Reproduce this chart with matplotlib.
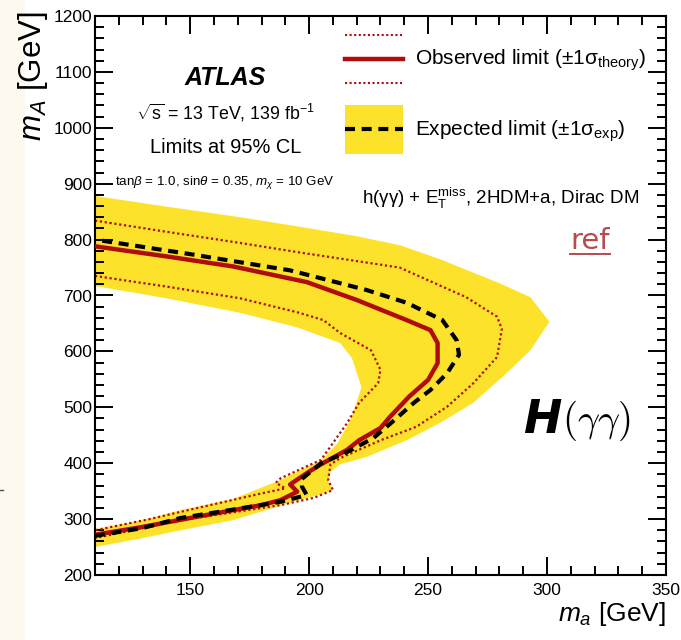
import matplotlib
matplotlib.use("Agg")
import matplotlib.pyplot as plt
from matplotlib.legend_handler import HandlerBase
from matplotlib.lines import Line2D
from matplotlib.patches import Rectangle
from matplotlib.ticker import MultipleLocator

plt.rcParams['font.family'] = ['Liberation Sans', 'DejaVu Sans']
plt.rcParams['mathtext.fontset'] = 'custom'
plt.rcParams['mathtext.rm'] = 'Liberation Sans'
plt.rcParams['mathtext.it'] = 'Liberation Sans:italic'
plt.rcParams['mathtext.bf'] = 'Liberation Sans:bold'

YELLOW = "#fde22c"
RED = "#b00c0c"

# +-1 sigma expected band (closed outline, m_a vs m_A in GeV)
band_x = [110, 140, 171, 196, 220, 238, 255, 266, 280, 293, 301, 293, 283, 269, 255, 241, 224, 213, 209, 208, 210, 207, 188, 168, 146, 130, 110,
          110, 130, 146, 168, 188, 195, 205, 212, 218, 222, 218, 213, 195, 171, 140, 110]
band_y = [878, 859, 840, 823, 806, 790, 765, 746, 722, 697, 653, 602, 561, 508, 472, 441, 411, 398, 385, 367, 352, 347, 324, 298, 280, 266, 250,
          282, 298, 316, 336, 370, 385, 405, 436, 483, 536, 588, 615, 643, 669, 695, 717]

# expected limit
exp_x = [110, 130, 146, 168, 188, 199, 197, 197, 205, 216, 227, 235, 244, 251, 258, 263, 262, 256, 241, 224, 192, 150, 110]
exp_y = [270, 284, 302, 317, 331, 343, 358, 372, 400, 420, 445, 474, 508, 531, 561, 594, 620, 656, 687, 710, 745, 774, 800]

# observed limit
obs_x = [110, 130, 150, 168, 180, 188, 195, 192, 200, 205, 216, 221, 230, 234, 238, 242, 250, 254, 254, 251, 241, 220, 199, 168, 140, 110]
obs_y = [272, 286, 302, 316, 325, 334, 349, 362, 385, 398, 424, 441, 463, 483, 501, 519, 549, 579, 615, 638, 656, 692, 724, 752, 770, 788]

# observed +-1 sigma theory (outer / inner contour)
theo_hi_x = [110, 140, 171, 196, 238, 266, 279, 281, 279, 269, 258, 245, 230, 213, 209, 208, 210, 202, 188, 146, 110]
theo_hi_y = [834, 814, 794, 777, 750, 697, 662, 640, 590, 543, 501, 465, 441, 409, 398, 370, 352, 338, 325, 298, 266]
theo_lo_x = [110, 140, 171, 195, 206, 213, 226, 230, 229, 221, 216, 213, 205, 188, 186, 190, 180, 146, 133, 110]
theo_lo_y = [735, 716, 695, 670, 656, 633, 602, 567, 543, 508, 472, 454, 406, 373, 365, 355, 346, 313, 300, 280]

x_major = [150, 200, 250, 300, 350]
y_major = [200, 300, 400, 500, 600, 700, 800, 900, 1000, 1100, 1200]


class ObsHandler(HandlerBase):
    def create_artists(self, legend, orig_handle, xdescent, ydescent, width, height, fontsize, trans):
        x0, x1 = -xdescent, -xdescent + width
        yc = -ydescent + height / 2
        dy = height * 0.48
        arts = [Line2D([x0, x1], [yc + dy, yc + dy], color=RED, ls=(0, (1, 1.2)), lw=1.5),
                Line2D([x0, x1], [yc, yc], color=RED, lw=3.2),
                Line2D([x0, x1], [yc - dy, yc - dy], color=RED, ls=(0, (1, 1.2)), lw=1.5)]
        for a in arts:
            a.set_transform(trans)
        return arts


class ExpHandler(HandlerBase):
    def create_artists(self, legend, orig_handle, xdescent, ydescent, width, height, fontsize, trans):
        x0 = -xdescent
        yc = -ydescent + height / 2
        box = Rectangle((x0, -ydescent), width, height, facecolor=YELLOW, edgecolor='none', transform=trans)
        ln = Line2D([x0, x0 + width], [yc, yc], color='black', lw=3, ls=(0, (2.4, 1.6)), transform=trans)
        return [box, ln]


class ObsEntry:
    pass


class ExpEntry:
    pass


fig = plt.figure(figsize=(6.81, 6.40), dpi=100)
fig.patches.append(Rectangle((0, 0), 25 / 681, 1, transform=fig.transFigure, facecolor='#fdf9ee',
                             edgecolor='none', zorder=-1))
fig.lines.append(Line2D([0, 3 / 681], [1 - 490 / 640, 1 - 490 / 640], transform=fig.transFigure,
                        color='#555555', lw=1))

ax = fig.add_axes([95 / 681, 65 / 640, 571 / 681, 559 / 640])

ax.fill(band_x, band_y, color=YELLOW, lw=0, zorder=1)
ax.plot(theo_hi_x, theo_hi_y, color=RED, lw=1.6, ls=(0, (1, 1.2)), zorder=2)
ax.plot(theo_lo_x, theo_lo_y, color=RED, lw=1.6, ls=(0, (1, 1.2)), zorder=2)
ax.plot(obs_x, obs_y, color=RED, lw=3.2, zorder=3, solid_joinstyle='round')
ax.plot(exp_x, exp_y, color='black', lw=3, ls=(0, (2.4, 1.6)), zorder=4)

ax.set_xlim(110, 350)
ax.set_ylim(200, 1200)
ax.set_xticks(x_major)
ax.set_yticks(y_major)
ax.xaxis.set_minor_locator(MultipleLocator(10))
ax.yaxis.set_minor_locator(MultipleLocator(20))
ax.tick_params(which='both', direction='in', top=True, right=True, width=1.4, labelsize=12.5)
ax.tick_params(which='major', length=13)
ax.tick_params(which='minor', length=6.5)
ax.tick_params(axis='x', pad=6)
ax.tick_params(axis='y', pad=2)
for sp in ax.spines.values():
    sp.set_linewidth(1.5)

ax.set_xlabel('$m_{a}$ [GeV]', fontsize=19, loc='right')
ax.xaxis.set_label_coords(1.0, -0.045)
ax.set_ylabel('$m_{A}$ [GeV]', fontsize=22.5, loc='top')
ax.yaxis.set_label_coords(-0.079, 1.008)

tx = 0.228
ta = ax.transAxes
ax.text(tx, 0.889, 'ATLAS', fontsize=18, fontweight='bold', fontstyle='italic', ha='center', va='center',
        transform=ta)
ax.text(tx, 0.827, r'$\sqrt{\mathrm{s}}$ = 13 TeV, 139 fb$^{\mathrm{-1}}$', fontsize=12.8, ha='center',
        va='center', transform=ta)
ax.text(tx, 0.764, 'Limits at 95% CL', fontsize=14.4, ha='center', va='center', transform=ta)
ax.text(tx, 0.702, r'tan$\beta$ = 1.0, sin$\theta$ = 0.35, $m_{\chi}$ = 10 GeV', fontsize=9.6,
        ha='center', va='center', transform=ta)
ax.text(0.711, 0.673, r'h($\mathrm{\gamma\gamma}$) + $\mathrm{E}_{\mathrm{T}}^{\mathrm{miss}}$, 2HDM+a, Dirac DM',
        fontsize=13.5, ha='center', va='center', transform=ta)

ref = ax.text(0.867, 0.598, 'ref', fontsize=21, color='#b84a4e', family='DejaVu Sans', ha='center',
              va='center', transform=ta)

h = ax.text(0.75, 0.254, 'H', fontsize=33, fontweight='bold', fontstyle='italic', family='DejaVu Sans',
            ha='left', va='baseline', transform=ta)
ax.annotate(r'$\mathbf{(}\gamma\gamma\mathbf{)}$', xy=(1, 0), xycoords=h, va='bottom', ha='left', fontsize=28,
            math_fontfamily='cm')

ax.legend([ObsEntry(), ExpEntry()],
          [r'Observed limit ($\pm$1$\mathrm{\sigma}_{\mathrm{theory}}$)',
           r'Expected limit ($\pm$1$\mathrm{\sigma}_{\mathrm{exp}}$)'],
          handler_map={ObsEntry: ObsHandler(), ExpEntry: ExpHandler()},
          loc='upper left', bbox_to_anchor=(0.438, 0.968), frameon=False, borderpad=0,
          borderaxespad=0, handlelength=2.78, handleheight=3.3, handletextpad=0.58,
          labelspacing=1.0, fontsize=15)

# underline for the ref link
fig.canvas.draw()
bb = ref.get_window_extent().transformed(ax.transAxes.inverted())
ax.plot([bb.x0, bb.x1], [bb.y0 + 0.002, bb.y0 + 0.002], transform=ax.transAxes, color='#b84a4e', lw=1.4,
        clip_on=False)

fig.savefig('out.png', dpi=100)
